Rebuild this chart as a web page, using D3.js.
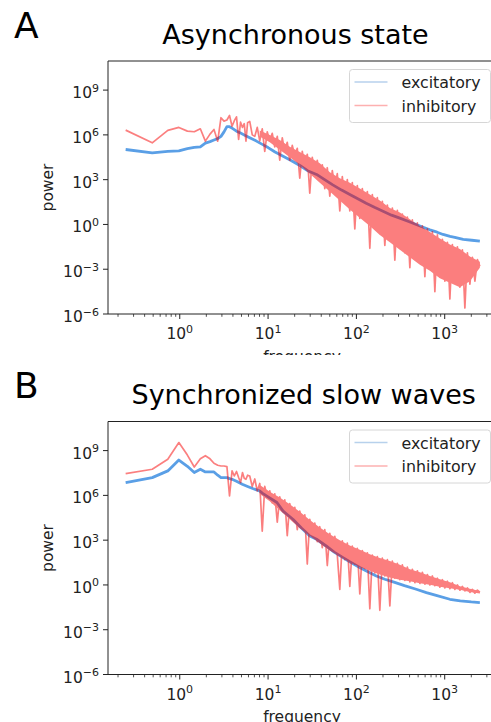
<!DOCTYPE html>
<html>
<head>
<meta charset="utf-8">
<script src="https://cdn.jsdelivr.net/npm/d3@7"></script>
<style>
  body { margin: 0; background: #fff; }
  svg { display: block; font-family: 'DejaVu Sans', sans-serif; }
</style>
</head>
<body>
<div id="chart"></div>
<script>
// power spectra, values are log10(power)

// low frequency bins [frequency, log10 power]
let inhibLowA = [
  [0.244, 6.32], [0.488, 5.47], [0.732, 6.3], [0.977, 6.5], [1.22, 6.25], [1.46, 6.21],
  [1.71, 6.41], [1.95, 5.58], [2.2, 6.05], [2.44, 6.36], [2.69, 5.58], [2.93, 7.15],
  [3.17, 6.92], [3.42, 7.0], [3.66, 7.3], [3.91, 6.58], [4.15, 6.95], [4.39, 7.21],
  [4.64, 5.69], [4.88, 6.85], [5.13, 6.5], [5.37, 6.75], [5.62, 5.58], [5.86, 6.81]
]
let inhibLowB = [
  [0.244, 7.46], [0.488, 7.75], [0.732, 8.42], [0.977, 9.54], [1.22, 8.7], [1.46, 7.9],
  [1.71, 8.45], [1.95, 8.66], [2.2, 8.45], [2.44, 8.15], [2.69, 8.02], [2.93, 7.97],
  [3.17, 7.97], [3.42, 7.93], [3.66, 5.96], [3.91, 7.64], [4.15, 7.3], [4.39, 7.6],
  [4.64, 7.2], [4.88, 6.86], [5.13, 7.53], [5.37, 7.15], [5.62, 7.08], [5.86, 7.35]
]

// higher frequencies (noisy part of the inhibitory trace)
let fHigh = [
  6.2, 6.62, 7.07, 7.54, 8.05, 8.59, 9.17, 9.79, 10.45, 11.15,
  11.9, 12.71, 13.56, 14.48, 15.45, 16.49, 17.6, 18.79, 20.06, 21.41,
  22.85, 24.39, 26.04, 27.79, 29.66, 31.66, 33.8, 36.08, 38.51, 41.1,
  43.87, 46.83, 49.99, 53.36, 56.95, 60.79, 64.89, 69.26, 73.93, 78.91,
  84.23, 89.91, 95.97, 102.4, 109.3, 116.7, 124.6, 133, 141.9, 151.5,
  161.7, 172.6, 184.2, 196.7, 209.9, 224.1, 239.2, 255.3, 272.5, 290.9,
  310.5, 331.4, 353.7, 377.6, 403, 430.2, 459.2, 490.1, 523.2, 558.4,
  596.1, 636.2, 679.1, 724.9, 773.8, 825.9, 881.6, 941, 1004, 1072,
  1144, 1221, 1304, 1392, 1485, 1585, 1692, 1806, 1928, 2058,
  2197, 2345, 2500
]
let inhibHighA = [
  6.9, 6.0, 5.9, 6.5, 5.6, 6.4, 4.9, 6.2, 5.6, 6.1,
  5.2, 5.9, 4.3, 5.8, 4.9, 5.5, 4.3, 5.3, 4.6, 5.1,
  3.1, 4.9, 3.9, 4.7, 2.1, 4.5, 3.3, 4.3, 2.9, 4.0,
  2.4, 3.8, 1.9, 3.6, 2.5, 3.4, 0.9, 3.2, 1.5, 3.0,
  0.9, 2.8, -0.3, 2.6, 0.4, 2.4, 0.8, 2.2, -1.6, 2.0,
  -0.3, 1.8, -0.6, 1.55, -1.4, 1.3, -1.0, 1.1, -2.4, 0.95,
  -1.6, 0.7, -1.9, 0.5, -2.9, 0.3, -2.2, 0.1, -2.6, -0.1,
  -3.5, -0.3, -3.0, -0.5, -4.5, -0.7, -3.5, -1.0, -3.8, -1.2,
  -5.0, -1.35, -3.9, -1.5, -4.2, -1.7, -5.6, -1.9, -4.0, -2.2,
  -3.8, -2.35, -2.8
]
let inhibHighB = [
  7.3, 6.6, 7.1, 6.3, 6.8, 3.6, 6.6, 5.9, 6.3, 5.5,
  6.1, 4.2, 5.9, 5.0, 5.7, 3.3, 5.45, 4.5, 5.2, 3.7,
  4.95, 3.9, 4.7, 1.4, 4.4, 3.3, 4.15, 2.9, 3.9, 2.5,
  3.7, 1.3, 3.45, 2.3, 3.25, 2.0, -0.3, 2.95, 1.7, 2.8,
  -0.1, 2.6, 1.4, 2.45, -0.6, 2.3, 1.1, 2.15, -1.6, 2.0,
  0.8, 1.9, -1.7, 1.8, 0.6, 1.7, -1.4, 1.6, 0.45, 1.45,
  0.35, 1.35, 0.3, 1.2, 0.2, 1.05, 0.15, 0.95, 0.1, 0.85,
  0.05, 0.7, 0.0, 0.6, -0.05, 0.45, -0.15, 0.35, -0.2, 0.25,
  -0.25, 0.15, -0.3, 0.0, -0.35, -0.1, -0.4, -0.2, -0.5, -0.3,
  -0.55, -0.35, -0.5
]

// dense core of the inhibitory trace (top / bottom edge)
let bandFreq = [
  8.05, 10.45, 13.56, 17.6, 22.85, 29.66, 38.51, 49.99, 64.89, 84.23, 109.3, 141.9,
  184.2, 239.2, 310.5, 403, 523.2, 679.1, 881.6, 1144, 1485, 1928, 2500
]
let bandTopA = [6.3, 6.0, 5.65, 5.2, 4.85, 4.5, 4.1, 3.5, 3.1, 2.8, 2.4, 2.0, 1.6, 1.1, 0.8, 0.35, -0.1, -0.5, -0.95, -1.35, -1.65, -2.15, -2.5]
let bandBotA = [5.9, 5.5, 5.0, 4.5, 4.0, 3.4, 2.8, 2.2, 1.6, 1.0, 0.45, -0.1, -0.7, -1.2, -1.7, -2.2, -2.7, -3.1, -3.6, -3.9, -4.2, -3.8, -2.9]
let bandTopB = [6.7, 6.25, 5.85, 5.4, 4.9, 4.35, 3.85, 3.4, 3.0, 2.65, 2.35, 2.05, 1.8, 1.6, 1.35, 1.05, 0.85, 0.6, 0.38, 0.18, -0.08, -0.25, -0.4]
let bandBotB = [6.1, 5.6, 5.0, 4.4, 3.8, 3.3, 2.8, 2.3, 1.9, 1.5, 1.2, 0.95, 0.7, 0.5, 0.35, 0.25, 0.12, 0.02, -0.12, -0.22, -0.33, -0.47, -0.58]

// excitatory traces [frequency, log10 power]
let excitA = [
  [0.244, 5.02], [0.488, 4.8], [0.732, 4.89], [0.977, 4.93], [1.22, 5.08], [1.46, 5.16],
  [1.71, 5.2], [1.95, 5.45], [2.2, 5.55], [2.44, 5.66], [2.69, 5.75], [2.93, 5.9],
  [3.17, 6.2], [3.42, 6.55], [3.66, 6.55], [3.91, 6.45], [4.39, 6.25], [4.88, 6.12],
  [5.37, 6.0], [6.2, 5.81], [7.3, 5.6], [8.5, 5.38], [10, 5.15], [12, 4.85], [14.8, 4.57],
  [18, 4.3], [22.9, 3.95], [28, 3.6], [35.4, 3.35], [45, 2.95], [54, 2.65], [68, 2.3],
  [84.2, 2.01], [105, 1.7], [129, 1.42], [160, 1.15], [200, 0.89], [250, 0.62], [310, 0.42],
  [390, 0.2], [476, 0.0], [580, -0.2], [679, -0.36], [820, -0.52], [957, -0.67], [1150, -0.8],
  [1300, -0.86], [1620, -1.0], [2030, -1.06], [2500, -1.12]
]
let excitB = [
  [0.244, 6.86], [0.488, 7.19], [0.732, 7.64], [0.977, 8.37], [1.22, 7.95], [1.46, 7.53],
  [1.71, 7.75], [1.95, 7.57], [2.2, 7.57], [2.44, 7.57], [2.69, 7.35], [2.93, 7.19],
  [3.17, 7.19], [3.42, 7.19], [3.66, 7.12], [3.91, 7.08], [4.39, 6.95], [5.1, 6.75],
  [5.86, 6.6], [6.7, 6.46], [8, 6.3], [8.6, 6.15], [10, 5.9], [12.6, 5.52], [14.8, 4.95],
  [16.6, 4.7], [19.1, 4.4], [24, 3.8], [29.7, 3.28], [35.4, 3.06], [45.5, 2.61], [56, 2.2],
  [70.6, 1.83], [84, 1.55], [109, 1.17], [135, 0.88], [168, 0.6], [210, 0.38], [261, 0.2],
  [350, -0.05], [476, -0.29], [620, -0.51], [800, -0.7], [1144, -0.96], [1500, -1.07],
  [2000, -1.14], [2500, -1.18]
]

// ticks
let xMajor = [1, 10, 100, 1000]
let yMajorExp = [-6, -3, 0, 3, 6, 9]
let seriesNames = ['excitatory', 'inhibitory']

let width = 491
let height = 722

let svg = d3
  .select('#chart')
  .append('svg')
  .attr('width', width)
  .attr('height', height)

svg
  .append('defs')
  .append('clipPath')
  .attr('id', 'clip-a')
  .append('rect')
  .attr('x', 0)
  .attr('y', 0)
  .attr('width', width)
  .attr('height', 355)

let panels = [
  {
    letter: 'A', title: 'Asynchronous state', titleX: 295.5, dy: 0, clip: 'url(#clip-a)',
    excit: excitA, inhibLow: inhibLowA, inhibHigh: inhibHighA, top: bandTopA, bot: bandBotA
  },
  {
    letter: 'B', title: 'Synchronized slow waves', titleX: 303.7, dy: 360.5, clip: null,
    excit: excitB, inhibLow: inhibLowB, inhibHigh: inhibHighB, top: bandTopB, bot: bandBotB
  }
]

let axTop = 61
let axBottom = 314
let axLeft = 108
let axRight = 497.5

let x = d3.scaleLog().domain([0.154, 3960]).range([axLeft, axRight])
let y = d3.scaleLog().domain([1e-6, Math.pow(10, 10.95)]).range([axBottom, axTop])

let blue = '#5a9fe6'
let red = '#f80000'

let line = d3.line().x(d => x(d[0])).y(d => y(Math.pow(10, d[1])))

let area = d3
  .area()
  .x(d => x(d[0]))
  .y0(d => y(Math.pow(10, d[2])))
  .y1(d => y(Math.pow(10, d[1])))

function pow10Label(sel, e) {
  sel.append('tspan').text('10')
  sel
    .append('tspan')
    .attr('dy', -6.5)
    .attr('font-size', 11)
    .text(e < 0 ? '\u2212' + -e : e)
}

panels.forEach(p => {
  let g = svg
    .append('g')
    .attr('transform', `translate(0,${p.dy})`)
    .attr('clip-path', p.clip)

  // panel letter and title
  g.append('text')
    .attr('x', 14)
    .attr('y', 37.5)
    .attr('font-size', 36)
    .attr('fill', '#000')
    .text(p.letter)

  g.append('text')
    .attr('x', p.titleX)
    .attr('y', 43.5)
    .attr('text-anchor', 'middle')
    .attr('font-size', 27)
    .attr('fill', '#000')
    .text(p.title)

  let plot = g.append('g')

  // excitatory
  plot
    .append('path')
    .datum(p.excit)
    .attr('d', line)
    .attr('fill', 'none')
    .attr('stroke', blue)
    .attr('stroke-width', 2.8)
    .attr('stroke-linejoin', 'round')

  // inhibitory, drawn as one translucent layer
  let inh = plot.append('g').attr('opacity', 0.5)
  let highPts = fHigh.map((f, i) => [f, p.inhibHigh[i]])
  let bandPts = bandFreq.map((f, i) => [f, p.top[i], p.bot[i]])

  inh
    .append('path')
    .datum(bandPts)
    .attr('d', area)
    .attr('fill', red)

  inh
    .append('path')
    .datum(p.inhibLow.concat(highPts))
    .attr('d', line)
    .attr('fill', 'none')
    .attr('stroke', red)
    .attr('stroke-width', 1.7)
    .attr('stroke-linejoin', 'round')

  // spines
  g.append('line')
    .attr('x1', axLeft).attr('x2', axRight)
    .attr('y1', axTop).attr('y2', axTop)
    .attr('stroke', '#222')
  g.append('line')
    .attr('x1', axLeft).attr('x2', axRight)
    .attr('y1', axBottom).attr('y2', axBottom)
    .attr('stroke', '#222')
  g.append('line')
    .attr('x1', axLeft).attr('x2', axLeft)
    .attr('y1', axTop).attr('y2', axBottom)
    .attr('stroke', '#222')

  // x ticks
  let minor = []
  ;[0.1, 1, 10, 100, 1000].forEach(d => {
    for (let k = 2; k <= 9; k++) minor.push(d * k)
  })
  minor = minor.filter(v => v > 0.154 && v < 3960)

  g.selectAll('.xminor')
    .data(minor)
    .enter()
    .append('line')
    .attr('x1', d => x(d)).attr('x2', d => x(d))
    .attr('y1', axBottom).attr('y2', axBottom + 2.8)
    .attr('stroke', '#222')
    .attr('stroke-width', 0.8)

  g.selectAll('.xmajor')
    .data(xMajor)
    .enter()
    .append('line')
    .attr('x1', d => x(d)).attr('x2', d => x(d))
    .attr('y1', axBottom).attr('y2', axBottom + 5)
    .attr('stroke', '#222')

  g.selectAll('.xlabel')
    .data(xMajor)
    .enter()
    .append('text')
    .attr('x', d => x(d))
    .attr('y', axBottom + 25)
    .attr('text-anchor', 'middle')
    .attr('font-size', 15.5)
    .attr('fill', '#222')
    .each(function(d) {
      pow10Label(d3.select(this), Math.round(Math.log10(d)))
    })

  // y ticks
  g.selectAll('.ymajor')
    .data(yMajorExp)
    .enter()
    .append('line')
    .attr('x1', axLeft - 5).attr('x2', axLeft)
    .attr('y1', d => y(Math.pow(10, d))).attr('y2', d => y(Math.pow(10, d)))
    .attr('stroke', '#222')

  g.selectAll('.ylabel')
    .data(yMajorExp)
    .enter()
    .append('text')
    .attr('x', axLeft - 9)
    .attr('y', d => y(Math.pow(10, d)) + 8)
    .attr('text-anchor', 'end')
    .attr('font-size', 15.5)
    .attr('fill', '#222')
    .each(function(d) {
      pow10Label(d3.select(this), d)
    })

  // axis titles
  g.append('text')
    .attr('transform', `translate(53,${(axTop + axBottom) / 2}) rotate(-90)`)
    .attr('text-anchor', 'middle')
    .attr('font-size', 15.5)
    .attr('fill', '#222')
    .text('power')

  g.append('text')
    .attr('x', 302)
    .attr('y', axBottom + 47.5)
    .attr('text-anchor', 'middle')
    .attr('font-size', 15.5)
    .attr('fill', '#222')
    .text('frequency')

  // legend
  let legend = g.append('g').attr('transform', `translate(349.5,${axTop + 8.5})`)

  legend
    .append('rect')
    .attr('width', 141)
    .attr('height', 53)
    .attr('rx', 3)
    .attr('fill', '#fff')
    .attr('fill-opacity', 0.8)
    .attr('stroke', '#d6d6d6')

  legend
    .selectAll('.legend-entry')
    .data(seriesNames)
    .enter()
    .append('g')
    .attr('class', 'legend-entry')
    .attr('transform', (d, i) => `translate(0,${12.5 + i * 23.5})`)
    .each(function(d, i) {
      let e = d3.select(this)
      e.append('line')
        .attr('x1', 5).attr('x2', 38)
        .attr('stroke', i === 0 ? '#b7d1ec' : '#fdb0b0')
        .attr('stroke-width', 1.6)
      e.append('text')
        .attr('x', 52)
        .attr('y', 6)
        .attr('font-size', 15.8)
        .attr('fill', '#222')
        .text(d)
    })
})
</script>
</body>
</html>
